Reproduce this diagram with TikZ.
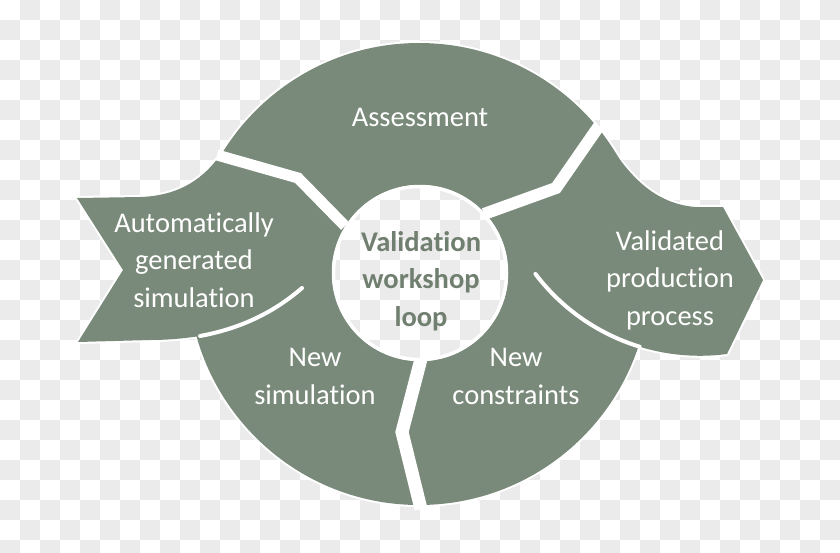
\documentclass[tikz,border=0pt]{standalone}
\usepackage{fontspec}
\setmainfont{Carlito}[Ligatures=NoCommon]
\definecolor{ringgreen}{RGB}{122,138,122}
\definecolor{centretext}{RGB}{112,127,112}
\definecolor{checkgray}{RGB}{235,235,235}
\newcommand{\drawchecker}{%
  \fill[white] (0,0) rectangle (840,552);
  \foreach \i in {0,...,41}{%
    \foreach \j in {0,...,27}{%
      \pgfmathtruncatemacro{\cbodd}{mod(\i+\j,2)}%
      \ifnum\cbodd=1 \fill[checkgray] (20*\i,20*\j) rectangle ++(20,20);\fi
    }}}
\newcommand{\ringpath}{(419,274) circle[radius=231pt]}
\newcommand{\leftarrowpath}{(77,198) -- (140,197) .. controls (175,196) and (200,182) .. (218,158) -- (300,200) -- (302,288) .. controls (272,314) and (238,329) .. (200,336) .. controls (180,339) and (165,340) .. (150,340) -- (78,342) -- (123,270) -- cycle}
\newcommand{\rightarrowpath}{(602,133) .. controls (625,170) and (650,203) .. (695,207) -- (723,207) -- (763,280) -- (727,354) arc[start angle=-82.5, end angle=-142.85, radius=206.5pt] -- (545,200) -- cycle}
\tikzset{
  outlinepass/.style={draw=white, line width=4pt, line join=round},
  piece/.style={fill=ringgreen},
  gapline/.style={draw=white, line width=#1, line join=miter},
  cutline/.style={draw=white, line width=4pt, line cap=round},
  lbl/.style={text=white, font=\fontsize{28.5pt}{37.5pt}\selectfont, align=center, inner sep=0pt},
  ctr/.style={text=centretext, font=\bfseries\fontsize{28.5pt}{37.5pt}\selectfont, align=center, inner sep=0pt}
}
\begin{document}
\begin{tikzpicture}[x=1pt, y=-1pt]
\useasboundingbox (0,0) rectangle (840,552);
\drawchecker
% white outline of the whole shape
\path[outlinepass] \ringpath;
\path[outlinepass] \leftarrowpath;
\path[outlinepass] \rightarrowpath;
% green pieces
\path[piece] \ringpath;
\path[piece] \leftarrowpath;
\path[piece] \rightarrowpath;
% cut lines between pieces
\draw[cutline] (302,288) .. controls (272,314) and (238,329) .. (200,336);
\draw[cutline] (535.4,273.9) arc[start angle=-142.85, end angle=-107, radius=206.5pt];
% gaps
\draw[gapline=11pt] (217,155) -- (298,178) -- (345,226);
\draw[gapline=12pt] (599,126) -- (556,188) -- (484,214);
\draw[gapline=13pt] (421,359) -- (402,432) -- (421,509);
% centre hole
\begin{scope}
  \clip (420,273) circle[radius=88pt];
  \drawchecker
\end{scope}
\draw[white, line width=3.5pt] (420,273) circle[radius=86.5pt];
% labels (base anchor = baseline of the last line)
\node[lbl, anchor=base] (assess) at (420,126) {Assessment};
\node[lbl, anchor=base] (auto) at (194,307) {Automatically\\generated\\simulation};
\node[lbl, anchor=base] (valid) at (670,325) {Validated\\production\\process};
\node[lbl, anchor=base] (newsim) at (315,404) {New\\simulation};
\node[lbl, anchor=base] (newcon) at (516,404) {New\\constraints};
\node[ctr, anchor=base] (loop) at (421,326) {Validation\\workshop\\loop};
\end{tikzpicture}
\end{document}
